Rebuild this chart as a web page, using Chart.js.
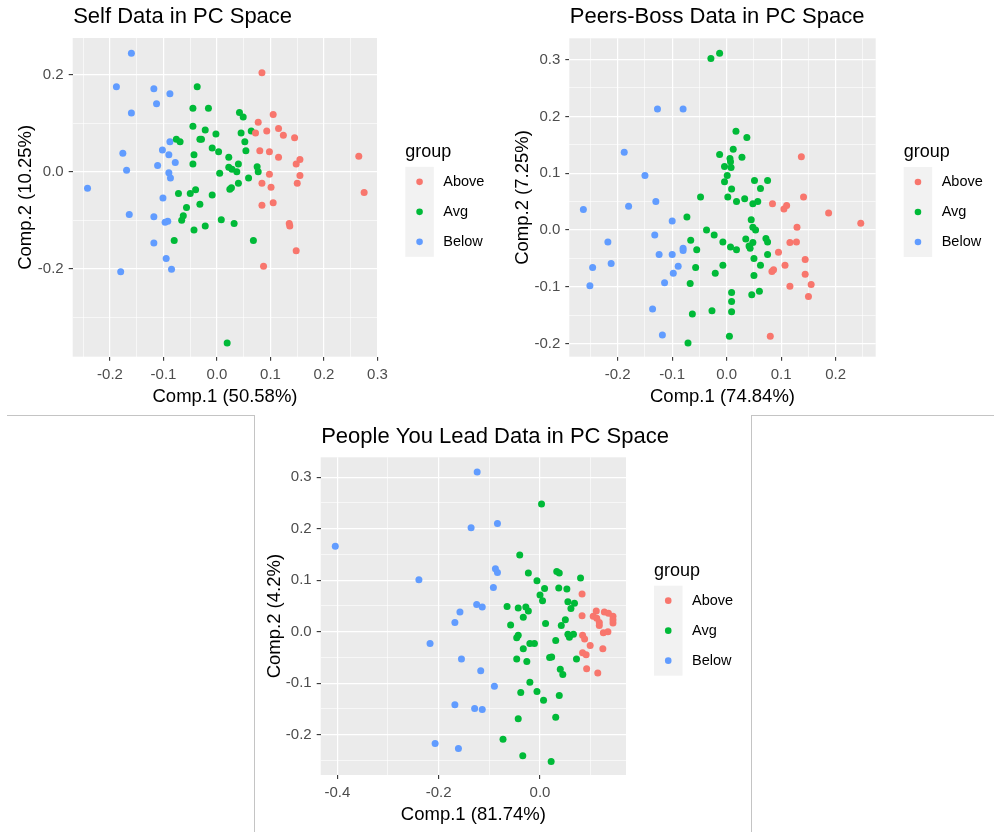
<!DOCTYPE html>
<html>
<head>
<meta charset="utf-8">
<script src="https://cdn.jsdelivr.net/npm/chart.js@4.4.0/dist/chart.umd.min.js"></script>
<style>
  body { margin: 0; background: #fff; }
  #page { position: relative; width: 994px; height: 832px; overflow: hidden; }
  .panel { position: absolute; }
  .rule { position: absolute; background: #c4c4c4; }
</style>
</head>
<body>
<div id="page">
  <div class="panel" style="left:0;top:0"><canvas id="selfChart" width="497" height="410"></canvas></div>
  <div class="panel" style="left:497px;top:0"><canvas id="peersChart" width="497" height="410"></canvas></div>
  <div class="panel" style="left:255px;top:416px"><canvas id="leadChart" width="495" height="416"></canvas></div>
  <div class="rule" style="left:7px;top:415px;width:248px;height:1px"></div>
  <div class="rule" style="left:254px;top:415px;width:1px;height:417px"></div>
  <div class="rule" style="left:751px;top:415px;width:243px;height:1px"></div>
  <div class="rule" style="left:751px;top:415px;width:1px;height:417px"></div>
</div>
<script>
const FONT = '"Liberation Sans", Arial, sans-serif';

const groups = ['Above', 'Avg', 'Below'];
const groupColors = ['#F8766D', '#00BA38', '#619CFF'];

// Self data, [Comp.1, Comp.2]
const selfAbove = [
  [0.084, 0.204], [0.105, 0.118], [0.077, 0.102], [0.115, 0.089], [0.093, 0.084],
  [0.072, 0.080], [0.124, 0.075], [0.145, 0.070], [0.080, 0.043], [0.098, 0.041],
  [0.115, 0.030], [0.265, 0.032], [0.155, 0.025], [0.148, 0.016], [0.098, -0.005],
  [0.155, -0.008], [0.084, -0.024], [0.101, -0.032], [0.150, -0.024], [0.275, -0.043],
  [0.084, -0.069], [0.105, -0.064], [0.135, -0.107], [0.136, -0.112], [0.148, -0.163],
  [0.087, -0.195]
];
const selfAvg = [
  [-0.037, 0.175], [-0.045, 0.131], [-0.016, 0.131], [0.042, 0.122], [0.049, 0.113],
  [-0.045, 0.094], [-0.022, 0.086], [-0.002, 0.078], [-0.032, 0.067], [-0.029, 0.067],
  [-0.076, 0.067], [-0.069, 0.062], [0.045, 0.080], [0.064, 0.084], [0.052, 0.062],
  [-0.009, 0.049], [0.003, 0.041], [0.054, 0.043], [-0.043, 0.035], [-0.045, 0.016],
  [0.022, 0.030], [0.040, 0.016], [0.022, 0.009], [0.028, 0.005], [0.037, 0.000],
  [0.005, -0.003], [0.075, 0.010], [0.077, 0.000], [0.059, -0.013], [0.040, -0.024],
  [0.027, -0.033], [0.024, -0.036], [-0.072, -0.045], [-0.050, -0.045], [-0.040, -0.037],
  [-0.009, -0.048], [-0.032, -0.067], [-0.057, -0.074], [-0.063, -0.091], [-0.066, -0.100],
  [0.008, -0.099], [-0.043, -0.120], [-0.022, -0.112], [0.032, -0.107], [-0.080, -0.142],
  [0.068, -0.142], [0.019, -0.353]
];
const selfBelow = [
  [-0.160, 0.244], [-0.188, 0.175], [-0.118, 0.171], [-0.088, 0.161], [-0.113, 0.140],
  [-0.160, 0.121], [-0.088, 0.062], [-0.102, 0.045], [-0.176, 0.038], [-0.090, 0.035],
  [-0.078, 0.019], [-0.111, 0.013], [-0.169, 0.003], [-0.090, -0.002], [-0.087, -0.013],
  [-0.242, -0.034], [-0.101, -0.054], [-0.164, -0.088], [-0.118, -0.093], [-0.097, -0.104],
  [-0.092, -0.102], [-0.118, -0.147], [-0.095, -0.179], [-0.180, -0.206], [-0.085, -0.201]
];

// Peers-Boss data
const peersAbove = [
  [0.137, 0.129], [0.141, 0.058], [0.084, 0.046], [0.105, 0.037], [0.110, 0.043],
  [0.187, 0.030], [0.246, 0.012], [0.129, 0.005], [0.116, -0.022], [0.128, -0.021],
  [0.095, -0.039], [0.144, -0.052], [0.107, -0.062], [0.083, -0.073], [0.086, -0.070],
  [0.144, -0.078], [0.116, -0.099], [0.155, -0.096], [0.150, -0.117], [0.080, -0.187]
];
const peersAvg = [
  [-0.029, 0.302], [-0.013, 0.311], [0.017, 0.174], [0.037, 0.163], [-0.013, 0.133],
  [0.012, 0.142], [0.006, 0.126], [0.028, 0.128], [0.007, 0.120], [-0.004, 0.112],
  [0.008, 0.110], [0.001, 0.096], [-0.004, 0.085], [0.051, 0.087], [0.075, 0.087],
  [0.009, 0.072], [0.062, 0.073], [-0.048, 0.058], [0.002, 0.058], [0.018, 0.050],
  [0.033, 0.055], [0.048, 0.046], [0.057, 0.050], [-0.073, 0.023], [0.045, 0.018],
  [-0.037, 0.000], [0.048, 0.005], [0.053, 0.000], [-0.023, -0.009], [-0.066, -0.018],
  [-0.007, -0.021], [0.035, -0.016], [0.048, -0.022], [0.072, -0.015], [0.075, -0.021],
  [-0.055, -0.035], [0.007, -0.030], [0.018, -0.035], [0.041, -0.028], [0.043, -0.032],
  [0.075, -0.043], [-0.007, -0.062], [-0.057, -0.066], [0.050, -0.050], [-0.021, -0.076],
  [0.062, -0.062], [0.050, -0.080], [-0.067, -0.094], [0.046, -0.114], [0.060, -0.108],
  [0.009, -0.110], [0.009, -0.126], [0.009, -0.144], [-0.063, -0.148], [-0.027, -0.142],
  [0.005, -0.187], [-0.071, -0.199]
];
const peersBelow = [
  [-0.127, 0.213], [-0.080, 0.213], [-0.188, 0.137], [-0.150, 0.096], [-0.263, 0.036],
  [-0.180, 0.042], [-0.130, 0.050], [-0.100, 0.016], [-0.132, -0.009], [-0.218, -0.021],
  [-0.124, -0.043], [-0.100, -0.043], [-0.080, -0.032], [-0.080, -0.036], [-0.246, -0.066],
  [-0.212, -0.059], [-0.089, -0.064], [-0.098, -0.076], [-0.251, -0.098], [-0.114, -0.093],
  [-0.136, -0.139], [-0.118, -0.185]
];

// People You Lead data
const leadAbove = [
  [0.083, 0.073], [0.083, 0.031], [0.111, 0.040], [0.105, 0.030], [0.127, 0.038],
  [0.117, 0.018], [0.117, 0.012], [0.144, 0.030], [0.144, 0.023], [0.144, 0.017],
  [0.125, -0.002], [0.134, 0.000], [0.084, -0.007], [0.088, -0.014], [0.099, -0.027],
  [0.124, -0.033], [0.084, -0.041], [0.091, -0.045], [0.092, -0.072], [0.114, -0.080],
  [0.112, 0.026], [0.135, 0.036]
];
const leadAvg = [
  [0.003, 0.248], [-0.040, 0.149], [-0.023, 0.114], [0.033, 0.117], [0.038, 0.114],
  [0.080, 0.104], [-0.006, 0.099], [0.009, 0.084], [0.037, 0.085], [0.053, 0.083],
  [0.000, 0.071], [0.005, 0.060], [0.055, 0.058], [0.068, 0.055], [0.061, 0.045],
  [-0.065, 0.049], [-0.043, 0.046], [-0.028, 0.048], [-0.023, 0.040], [-0.033, 0.028],
  [0.050, 0.023], [0.042, 0.012], [0.011, 0.016], [-0.058, 0.013], [-0.043, -0.007],
  [-0.046, -0.012], [0.031, -0.017], [0.055, -0.005], [0.066, -0.005], [0.058, -0.011],
  [-0.020, -0.023], [-0.011, -0.023], [-0.033, -0.033], [-0.046, -0.053], [-0.026, -0.058],
  [0.019, -0.050], [0.023, -0.049], [0.072, -0.053], [0.040, -0.073], [0.045, -0.083],
  [-0.020, -0.098], [-0.038, -0.118], [-0.006, -0.116], [0.007, -0.133], [0.038, -0.124],
  [-0.043, -0.169], [0.031, -0.166], [-0.073, -0.209], [-0.034, -0.241], [0.022, -0.252]
];
const leadBelow = [
  [-0.124, 0.310], [-0.136, 0.202], [-0.084, 0.210], [-0.404, 0.166], [-0.239, 0.101],
  [-0.088, 0.122], [-0.084, 0.115], [-0.092, 0.086], [-0.125, 0.053], [-0.114, 0.048],
  [-0.158, 0.038], [-0.168, 0.018], [-0.217, -0.023], [-0.155, -0.053], [-0.117, -0.076],
  [-0.090, -0.106], [-0.168, -0.142], [-0.129, -0.149], [-0.114, -0.151], [-0.207, -0.217],
  [-0.161, -0.227]
];

// tick positions (major labelled, minor only as thin grid lines)
const selfXTicks = [-0.2, -0.1, 0.0, 0.1, 0.2, 0.3];
const selfXMinor = [-0.25, -0.15, -0.05, 0.05, 0.15, 0.25];
const selfYTicks = [-0.2, 0.0, 0.2];
const selfYMinor = [-0.3, -0.1, 0.1];
const peersXTicks = [-0.2, -0.1, 0.0, 0.1, 0.2];
const peersXMinor = [-0.25, -0.15, -0.05, 0.05, 0.15, 0.25];
const peersYTicks = [-0.2, -0.1, 0.0, 0.1, 0.2, 0.3];
const peersYMinor = [-0.15, -0.05, 0.05, 0.15, 0.25];
const leadXTicks = [-0.4, -0.2, 0.0];
const leadXMinor = [-0.3, -0.1, 0.1];
const leadYTicks = [-0.2, -0.1, 0.0, 0.1, 0.2, 0.3];
const leadYMinor = [-0.25, -0.15, -0.05, 0.05, 0.15, 0.25];


const panelBg = {
  id: 'panelBg',
  beforeDraw(chart) {
    const a = chart.chartArea;
    const ctx = chart.ctx;
    ctx.save();
    ctx.fillStyle = '#ebebeb';
    ctx.fillRect(a.left, a.top, a.right - a.left, a.bottom - a.top);
    ctx.restore();
  }
};

// ggplot style title (left aligned to the panel) and legend
const ggDecor = {
  id: 'ggDecor',
  afterDraw(chart, args, opts) {
    const a = chart.chartArea;
    const ctx = chart.ctx;
    ctx.save();
    ctx.textBaseline = 'middle';
    ctx.textAlign = 'left';
    ctx.fillStyle = '#000';
    ctx.font = '22px ' + FONT;
    ctx.fillText(opts.title, a.left + 0.5, opts.titleY);

    const left = a.right + 28;
    const top = (a.top + a.bottom) / 2 - 30.5;
    ctx.font = '18px ' + FONT;
    ctx.fillText('group', left, top - 15);
    ctx.fillStyle = '#f2f2f2';
    ctx.fillRect(left, top, 28.5, 90);
    groups.forEach((g, i) => {
      const cy = top + 15 + 30 * i;
      ctx.fillStyle = groupColors[i];
      ctx.beginPath();
      ctx.arc(left + 14.25, cy, 3.3, 0, Math.PI * 2);
      ctx.fill();
      ctx.fillStyle = '#000';
      ctx.font = '14.5px ' + FONT;
      ctx.fillText(g, left + 38, cy);
    });
    ctx.restore();
  }
};


function makeScale(axis, min, max, major, minor, title, titlePad, size) {
  const isMinor = (ctx) => ctx.tick && ctx.tick.minor;
  return {
    type: 'linear',
    min: min,
    max: max,
    border: { display: false },
    afterBuildTicks: (s) => {
      const all = major.map(v => ({ value: v, minor: false }))
        .concat(minor.map(v => ({ value: v, minor: true })));
      all.sort((p, q) => p.value - q.value);
      s.ticks = all;
    },
    afterFit: (s) => {
      if (axis === 'x') s.height = size;
      else s.width = size;
    },
    ticks: {
      autoSkip: false,
      maxRotation: 0,
      padding: 5,
      color: '#4d4d4d',
      font: { family: FONT, size: 15 },
      callback: (v, i, ticks) => ticks[i].minor ? '' : v.toFixed(1)
    },
    grid: {
      color: '#ffffff',
      lineWidth: c => isMinor(c) ? 0.6 : 1.2,
      tickLength: 4,
      tickWidth: 1.1,
      tickColor: c => isMinor(c) ? 'rgba(0,0,0,0)' : '#333333'
    },
    title: {
      display: true,
      text: title,
      color: '#000',
      font: { family: FONT, size: 18.5 },
      padding: titlePad
    }
  };
}


function toPoints(pairs) {
  return pairs.map(p => ({ x: p[0], y: p[1] }));
}


function makePanel(id, cfg) {
  const datasets = cfg.series.map((s, i) => ({
    label: groups[i],
    data: toPoints(s),
    backgroundColor: groupColors[i],
    borderWidth: 0,
    pointRadius: 3.5,
    pointHoverRadius: 3.5
  }));

  return new Chart(id, {
    type: 'scatter',
    data: { datasets: datasets },
    options: {
      responsive: false,
      animation: false,
      events: [],
      layout: { padding: { left: 0, top: cfg.plotTop, right: cfg.padRight, bottom: 0 } },
      scales: {
        x: makeScale('x', cfg.xMin, cfg.xMax, cfg.xTicks, cfg.xMinor, cfg.xTitle,
          { top: 0, bottom: cfg.xTitlePad }, cfg.xHeight),
        y: makeScale('y', cfg.yMin, cfg.yMax, cfg.yTicks, cfg.yMinor, cfg.yTitle,
          { top: cfg.yTitlePad, bottom: 0 }, cfg.yWidth)
      },
      plugins: {
        legend: { display: false },
        tooltip: { enabled: false },
        title: { display: false },
        ggDecor: { title: cfg.title, titleY: cfg.titleY }
      }
    },
    plugins: [panelBg, ggDecor]
  });
}


makePanel('selfChart', {
  title: 'Self Data in PC Space',
  titleY: 17, plotTop: 38,
  series: [selfAbove, selfAvg, selfBelow],
  xMin: -0.2697, xMax: 0.2996, xTicks: selfXTicks, xMinor: selfXMinor,
  yMin: -0.3814, yMax: 0.2757, yTicks: selfYTicks, yMinor: selfYMinor,
  xTitle: 'Comp.1 (50.58%)', yTitle: 'Comp.2 (10.25%)',
  xTitlePad: 2.2, yTitlePad: 14.9,
  xHeight: 53.3, yWidth: 72.7, padRight: 119.7
});

makePanel('peersChart', {
  title: 'Peers-Boss Data in PC Space',
  titleY: 17, plotTop: 38.3,
  series: [peersAbove, peersAvg, peersBelow],
  xMin: -0.2888, xMax: 0.2734, xTicks: peersXTicks, xMinor: peersXMinor,
  yMin: -0.2231, yMax: 0.3375, yTicks: peersYTicks, yMinor: peersYMinor,
  xTitle: 'Comp.1 (74.84%)', yTitle: 'Comp.2 (7.25%)',
  xTitlePad: 2.2, yTitlePad: 15.2,
  xHeight: 53.3, yWidth: 72.3, padRight: 118.3
});

makePanel('leadChart', {
  title: 'People You Lead Data in PC Space',
  titleY: 20.5, plotTop: 41.3,
  series: [leadAbove, leadAvg, leadBelow],
  xMin: -0.4328, xMax: 0.1697, xTicks: leadXTicks, xMinor: leadXMinor,
  yMin: -0.2783, yMax: 0.3386, yTicks: leadYTicks, yMinor: leadYMinor,
  xTitle: 'Comp.1 (81.74%)', yTitle: 'Comp.2 (4.2%)',
  xTitlePad: 5.9, yTitlePad: 8.9,
  xHeight: 57, yWidth: 65.7, padRight: 124
});
</script>
</body>
</html>
